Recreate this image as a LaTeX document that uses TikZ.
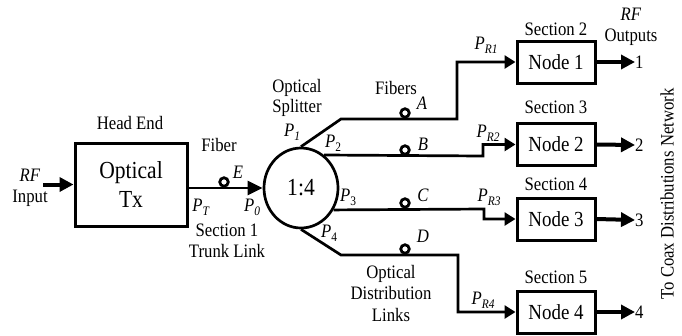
\documentclass[tikz,border=0pt]{standalone}
\usepackage{fontspec}
\setmainfont{Liberation Serif}[FakeStretch=0.88]
\usetikzlibrary{arrows.meta,shapes.geometric}
\newcommand\Pl[1]{\textit{P}\raisebox{-4pt}{\fontsize{13}{12}\selectfont #1}}
\begin{document}
\begin{tikzpicture}[x=1pt,y=-1pt,
  lbl/.style={font=\fontsize{19}{20.5}\selectfont, inner sep=0pt, align=center},
  box/.style={draw, line width=3pt, minimum width=78pt, minimum height=42pt, inner sep=0pt, font=\fontsize{21.5}{24}\selectfont},
  fiber/.style={line width=2.7pt},
  fib/.style={fiber, -{Triangle[length=11pt,width=13pt]}},
  fibbig/.style={fiber, -{Triangle[length=15pt,width=14pt]}},
  io/.style={line width=4pt, -{Triangle[length=14pt,width=14pt]}},
  fibloop/.style={circle, draw, fill=white, line width=2.8pt, minimum size=8.5pt, inner sep=0pt},
]
\useasboundingbox (0,0) rectangle (682,335);

% main blocks
\node[box, minimum width=112pt, minimum height=83pt, font=\fontsize{24.5}{28.5}\selectfont, align=center] (tx) at (131,184.5) {Optical\\Tx};
\node[draw, ellipse, line width=2.7pt, minimum width=74pt, minimum height=80pt, inner sep=0pt, font=\fontsize{24.5}{28}\selectfont] (split) at (301,188) {1:4};
\node[box] (n1) at (556,62) {Node 1};
\node[box] (n2) at (556,144.5) {Node 2};
\node[box] (n3) at (556,219) {Node 3};
\node[box] (n4) at (556,312) {Node 4};

% outputs
\node[lbl, anchor=west] (out1) at (635,62) {1};
\node[lbl, anchor=west] (out2) at (635,145) {2};
\node[lbl, anchor=west] (out3) at (635,220) {3};
\node[lbl, anchor=west] (out4) at (635,312) {4};

% input
\node[lbl] (rfin) at (30,188) {\textit{RF}\\Input};
\coordinate (inA) at (43,184.5);
\draw[io] (inA) -- (tx.west);

% trunk fiber
\draw[fibbig] (tx.east |- split.west) -- (split.west);

% distribution fibers
\coordinate (a1) at (341,119);
\coordinate (a2) at (457,119);
\draw[fib] (split.north) -- (a1) -- (a2) |- (n1.west);
\coordinate (b1) at (483,156);
\draw[fib] (split.55) -- (b1) |- (n2.west);
\coordinate (c1) at (484,209);
\draw[fib] (split.-34) -- (c1) |- (n3.west);
\coordinate (d1) at (341,255);
\coordinate (d2) at (458,255);
\draw[fib] (split.south) -- (d1) -- (d2) |- (n4.west);

% output arrows
\draw[io] (n1.east) -- (out1.west);
\draw[io] (n2.east) -- (out2.west);
\draw[io] (n3.east) -- (out3.west);
\draw[io] (n4.east) -- (out4.west);

% fiber loops
\node[fibloop] (lpE) at (224,182) {};
\node[fibloop] (lpA) at (405,113) {};
\node[fibloop] (lpB) at (405,150) {};
\node[fibloop] (lpC) at (405,203) {};
\node[fibloop] (lpD) at (405,249) {};

% labels
\node[lbl] (headend) at (130,123) {Head End};
\node[lbl] (fiberlbl) at (219,145) {Fiber};
\node[lbl] (lE) at (238,172) {\textit{E}};
\node[lbl] (pT) at (201,207) {\Pl{\textit{T}}};
\node[lbl] (p0) at (252,207) {\Pl{\textit{0}}};
\node[lbl] (sec1) at (227,241) {Section 1\\Trunk Link};
\node[lbl] (splitter) at (297,98) {Optical\\Splitter};
\node[lbl] (p1) at (292,132) {\Pl{\textit{1}}};
\node[lbl] (p2) at (333,143) {\Pl{2}};
\node[lbl] (p3) at (348,197) {\Pl{3}};
\node[lbl] (p4) at (329,233) {\Pl{4}};
\node[lbl] (fibers) at (396,88) {Fibers};
\node[lbl] (lA) at (422,103) {\textit{A}};
\node[lbl] (lB) at (423,144) {\textit{B}};
\node[lbl] (lC) at (423,195) {\textit{C}};
\node[lbl] (lD) at (423,236) {\textit{D}};
\node[lbl, font=\fontsize{19}{21.5}\selectfont] (odl) at (391,293) {Optical\\Distribution\\Links};
\node[lbl] (pr1) at (486,45) {\Pl{\textit{R1}}};
\node[lbl] (pr2) at (488,133) {\Pl{\textit{R2}}};
\node[lbl] (pr3) at (489,197) {\Pl{\textit{R3}}};
\node[lbl] (pr4) at (483,300) {\Pl{\textit{R4}}};
\node[lbl] (sec2) at (556,29) {Section 2};
\node[lbl] (sec3) at (556,107) {Section 3};
\node[lbl] (sec4) at (556,184) {Section 4};
\node[lbl] (sec5) at (556,277) {Section 5};
\node[lbl] (rfout) at (631,27) {\textit{RF}\\Outputs};
\node[lbl, rotate=90] (coax) at (667,194) {To Coax Distributions Network};
\end{tikzpicture}
\end{document}
